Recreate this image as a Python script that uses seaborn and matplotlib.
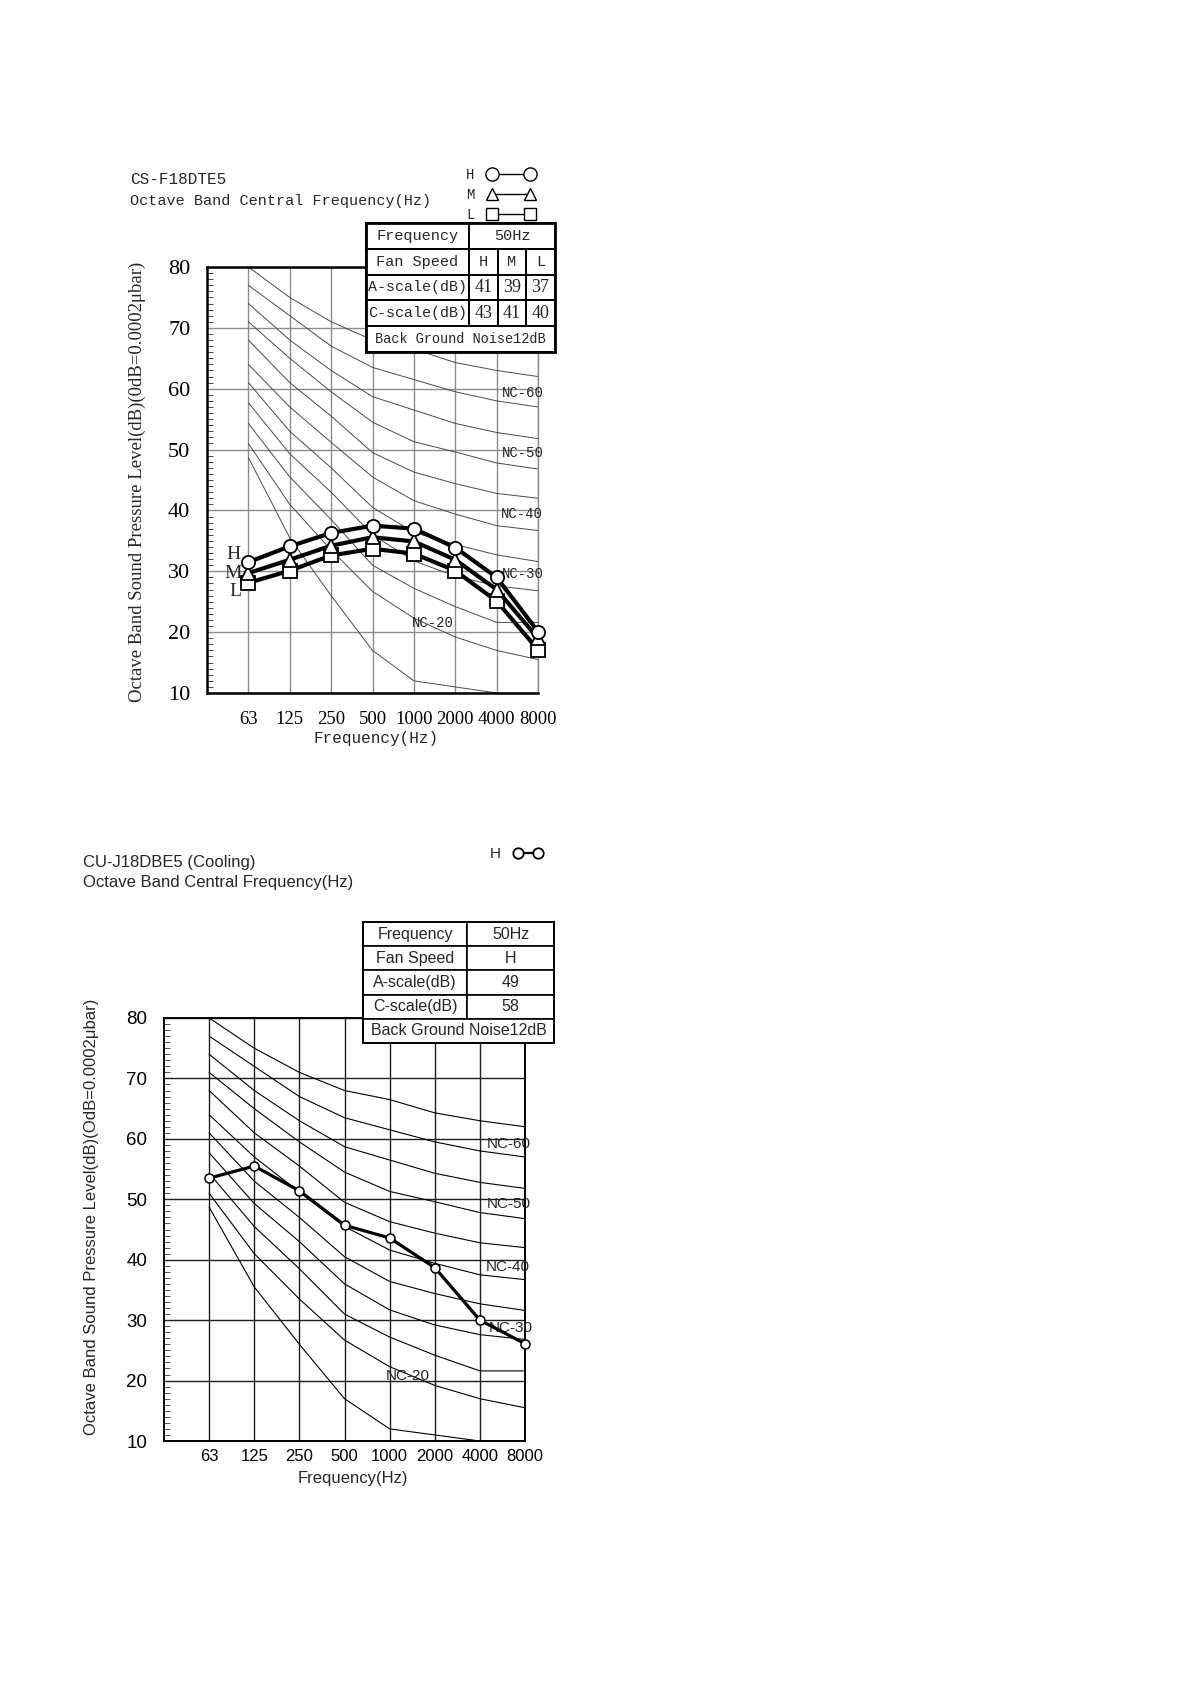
import numpy as np
import pandas as pd
import matplotlib.pyplot as plt
import seaborn as sns
from matplotlib.lines import Line2D
from matplotlib.patches import Rectangle
from matplotlib.ticker import MultipleLocator

# octave band centres
freqs = ["63", "125", "250", "500", "1000", "2000", "4000", "8000"]

# NC reference curves (dB at each band)
nc_names = ["NC-65", "NC-60", "NC-55", "NC-50", "NC-45", "NC-40",
            "NC-35", "NC-30", "NC-25", "NC-20", "NC-15"]
nc65 = [80, 75, 71, 68, 66.5, 64.3, 63, 62]
nc60 = [77, 72, 67, 63.5, 61.5, 59.5, 58, 57]
nc55 = [74, 68, 63, 58.7, 56.5, 54.3, 52.8, 51.8]
nc50 = [71, 65, 59.5, 54.5, 51.3, 49.6, 47.8, 46.8]
nc45 = [68, 61, 55.5, 49.5, 46.3, 44.4, 42.8, 42]
nc40 = [64, 57, 51.2, 45.5, 41.6, 39.4, 37.5, 36.7]
nc35 = [61, 53, 47, 40.5, 36.4, 34.4, 32.7, 31.6]
nc30 = [57.7, 49.3, 43, 36, 31.7, 29.2, 27.6, 26.8]
nc25 = [54.3, 45.5, 38.5, 31, 27.2, 24.2, 21.6, 21.6]
nc20 = [51, 41, 33.5, 26.7, 22.3, 19.2, 17, 15.5]
nc15 = [48.7, 35.5, 26, 17, 12, 11, 10, np.nan]
nc_labels = ["NC-60", "NC-50", "NC-40", "NC-30", "NC-20"]

# indoor unit CS-F18DTE5
top_h = [31.5, 34.1, 36.3, 37.5, 37.0, 33.9, 29.0, 20.1]
top_m = [29.7, 31.9, 34.2, 35.6, 34.9, 31.9, 27.0, 19.0]
top_l = [28.1, 30.1, 32.6, 33.7, 32.9, 30.1, 25.1, 17.1]
top_speeds = ["H", "M", "L"]
top_a_scale = ["41", "39", "37"]
top_c_scale = ["43", "41", "40"]

# outdoor unit CU-J18DBE5
bot_h = [53.5, 55.5, 51.4, 45.7, 43.6, 38.7, 30.0, 26.1]
bot_speeds = ["H"]
bot_a_scale = ["49"]
bot_c_scale = ["58"]

W, H = 1190, 1684
MONO = ["Liberation Mono", "DejaVu Sans Mono"]
SERIF = ["Liberation Serif", "DejaVu Serif"]
SANS = ["Liberation Sans", "DejaVu Sans"]

sns.set_theme(style="white")
plt.rcParams["font.family"] = SERIF

fig = plt.figure(figsize=(W / 100, H / 100), dpi=100)
fig.patch.set_facecolor("white")


def px_axes(x0, y0, x1, y1):
    return fig.add_axes([x0 / W, 1 - y1 / H, (x1 - x0) / W, (y1 - y0) / H])


pos = np.arange(len(freqs))
nc_df = pd.DataFrame({
    "pos": np.tile(pos, len(nc_names)),
    "level": np.concatenate([nc65, nc60, nc55, nc50, nc45, nc40,
                             nc35, nc30, nc25, nc20, nc15]),
    "curve": np.repeat(nc_names, len(freqs)),
}).dropna()


def base_chart(ax, grid_col, nc_col, nc_lw, tick_font, ytick_size, xtick_size,
               ypad, xpad):
    ax.set_facecolor("white")
    sns.lineplot(data=nc_df, x="pos", y="level", units="curve",
                 estimator=None, sort=False, color=nc_col, linewidth=nc_lw,
                 legend=False, ax=ax, zorder=2)
    ax.set_xlim(-1, 7)
    ax.set_ylim(10, 80)
    ax.set_xticks(pos)
    ax.set_xticklabels(freqs, family=tick_font, fontsize=xtick_size)
    ax.set_yticks(range(10, 81, 10))
    ax.set_yticklabels(range(10, 81, 10), family=tick_font, fontsize=ytick_size)
    ax.yaxis.set_minor_locator(MultipleLocator(1))
    ax.grid(True, which="major", color=grid_col, linewidth=1.0, zorder=1)
    ax.grid(False, which="minor")
    ax.tick_params(axis="x", length=0, pad=xpad, colors="black")
    ax.tick_params(axis="y", which="major", length=0, pad=ypad, colors="black")
    ax.tick_params(axis="y", which="minor", left=True, direction="in",
                   length=4, width=0.6, color="#333333")
    ax.set_ylabel("")


def draw_table(x0, y0, x1, y1, col_edges, rows, lw_outer, lw_inner):
    tax = px_axes(x0, y0, x1, y1)
    w, h = x1 - x0, y1 - y0
    tax.set_xlim(0, w)
    tax.set_ylim(h, 0)
    tax.axis("off")
    rh = h / len(rows)
    for r, row in enumerate(rows):
        for text, c0, c1, font, size in row:
            xa, xb = col_edges[c0], col_edges[c1]
            tax.add_patch(Rectangle((xa, r * rh), xb - xa, rh, facecolor="white",
                                    edgecolor="black", lw=lw_inner, clip_on=False))
            tax.text((xa + xb) / 2, (r + 0.5) * rh, text, ha="center",
                     va="center", family=font, fontsize=size)
    tax.add_patch(Rectangle((0, 0), w, h, facecolor="none", edgecolor="black",
                            lw=lw_outer, clip_on=False))


# ---------------- top chart ----------------
ax1 = px_axes(207, 267, 538, 693)
base_chart(ax1, "#8c8c8c", "#4a4a4a", 0.7, SERIF, 16, 13.5, 12, 13)
for s in ["left", "bottom", "top"]:
    ax1.spines[s].set_color("black")
    ax1.spines[s].set_linewidth(1.8)
ax1.spines["right"].set_color("#8c8c8c")
ax1.spines["right"].set_linewidth(1.0)

mk = dict(markerfacecolor="white", markeredgecolor="black",
          markeredgewidth=1.3, clip_on=False, zorder=5)
sns.lineplot(x=pos, y=top_l, color="black", linewidth=3, marker="s",
             markersize=9.5, ax=ax1, **mk)
sns.lineplot(x=pos, y=top_m, color="black", linewidth=3, marker="^",
             markersize=9.5, ax=ax1, **mk)
sns.lineplot(x=pos, y=top_h, color="black", linewidth=3, marker="o",
             markersize=9.5, ax=ax1, **mk)

ax1.set_xlabel("Frequency(Hz)", family=MONO, fontsize=11.5)
ax1.xaxis.set_label_coords((376 - 207) / 331, -(731 - 693) / 426)

for lab, (x, y) in zip(nc_labels, [(6.63, 59.3), (6.63, 49.5), (6.6, 39.4),
                                   (6.63, 29.6), (4.45, 21.5)]):
    ax1.text(x, y, lab, family=MONO, fontsize=10, ha="center", va="center",
             zorder=4)
for lab, (x, y) in zip(top_speeds, [(-0.36, 32.7), (-0.38, 29.6), (-0.31, 26.6)]):
    ax1.text(x, y, lab, family=SERIF, fontsize=14, ha="center", va="center")

fig.text(130 / W, 1 - 180 / H, "CS-F18DTE5", family=MONO, fontsize=11.5,
         ha="left", va="center")
fig.text(130 / W, 1 - 201 / H, "Octave Band Central Frequency(Hz)", family=MONO,
         fontsize=10.9, ha="left", va="center")
fig.text(137 / W, 1 - 482 / H,
         "Octave Band Sound Pressure Level(dB)(0dB=0.0002\u03bcbar)",
         family=SERIF, fontsize=13.5, rotation=90, ha="center", va="center")

leg_handles = [
    Line2D([], [], color="black", lw=1.0, marker=m, markersize=s,
           markerfacecolor="white", markeredgecolor="black", markeredgewidth=1.0)
    for m, s in [("o", 9.5), ("^", 9), ("s", 8)]
]
ax1.legend(leg_handles, top_speeds, loc="upper left",
           bbox_to_anchor=(466 / W, 1 - 168 / H), bbox_transform=fig.transFigure,
           frameon=False, numpoints=2, markerfirst=False, handlelength=3.3,
           handletextpad=1.0, labelspacing=0.42, borderpad=0, borderaxespad=0,
           prop={"family": MONO, "size": 10})

top_rows = [
    [("Frequency", 0, 1, MONO, 11), ("50Hz", 1, 4, MONO, 11)],
    [("Fan Speed", 0, 1, MONO, 11)] +
    [(s, i + 1, i + 2, MONO, 11) for i, s in enumerate(top_speeds)],
    [("A-scale(dB)", 0, 1, MONO, 10.8)] +
    [(v, i + 1, i + 2, SERIF, 13) for i, v in enumerate(top_a_scale)],
    [("C-scale(dB)", 0, 1, MONO, 10.8)] +
    [(v, i + 1, i + 2, SERIF, 13) for i, v in enumerate(top_c_scale)],
    [("Back Ground Noise12dB", 0, 4, MONO, 9.8)],
]
draw_table(366, 223, 555, 352, [0, 103, 132, 160, 189], top_rows, 2.0, 1.4)

# ---------------- bottom chart ----------------
ax2 = px_axes(164, 1018, 525, 1441)
base_chart(ax2, "#1e1e1e", "black", 0.8, SANS, 13.5, 12, 12, 6)
for s in ax2.spines.values():
    s.set_color("black")
    s.set_linewidth(1.4)

sns.lineplot(x=pos, y=bot_h, color="black", linewidth=2.3, marker="o",
             markersize=6.5, markerfacecolor="white", markeredgecolor="black",
             markeredgewidth=1.1, clip_on=False, zorder=5, ax=ax2)

ax2.set_xlabel("Frequency(Hz)", family=SANS, fontsize=12)
ax2.xaxis.set_label_coords((353 - 164) / 361, -(1471 - 1441) / 423)

for lab, (x, y) in zip(nc_labels, [(6.65, 59.2), (6.65, 49.2), (6.62, 38.8),
                                   (6.68, 28.7), (4.41, 20.7)]):
    ax2.text(x, y, lab, family=SANS, fontsize=11, ha="center", va="center",
             zorder=4)

fig.text(83 / W, 1 - 862 / H, "CU-J18DBE5 (Cooling)", family=SANS, fontsize=12,
         ha="left", va="center")
fig.text(83 / W, 1 - 883 / H, "Octave Band Central Frequency(Hz)", family=SANS,
         fontsize=12, ha="left", va="center")
fig.text(92 / W, 1 - 1217 / H,
         "Octave Band Sound Pressure Level(dB)(OdB=0.0002\u03bcbar)",
         family=SANS, fontsize=12, rotation=90, ha="center", va="center")

ax2.legend([Line2D([], [], color="black", lw=1.6, marker="o", markersize=7.5,
                   markerfacecolor="white", markeredgecolor="black",
                   markeredgewidth=1.3)],
           bot_speeds, loc="upper left",
           bbox_to_anchor=(490 / W, 1 - 847 / H), bbox_transform=fig.transFigure,
           frameon=False, numpoints=2, markerfirst=False, handlelength=1.9,
           handletextpad=0.8, borderpad=0, borderaxespad=0,
           prop={"family": SANS, "size": 11})

bot_rows = [
    [("Frequency", 0, 1, SANS, 11.5), ("50Hz", 1, 2, SANS, 11.5)],
    [("Fan Speed", 0, 1, SANS, 11.5), (bot_speeds[0], 1, 2, SANS, 11.5)],
    [("A-scale(dB)", 0, 1, SANS, 11.5), (bot_a_scale[0], 1, 2, SANS, 11.5)],
    [("C-scale(dB)", 0, 1, SANS, 11.5), (bot_c_scale[0], 1, 2, SANS, 11.5)],
    [("Back Ground Noise12dB", 0, 2, SANS, 11.5)],
]
draw_table(363, 922, 554, 1043, [0, 104, 191], bot_rows, 1.4, 1.2)

fig.savefig("out.png", dpi=100, facecolor="white")
